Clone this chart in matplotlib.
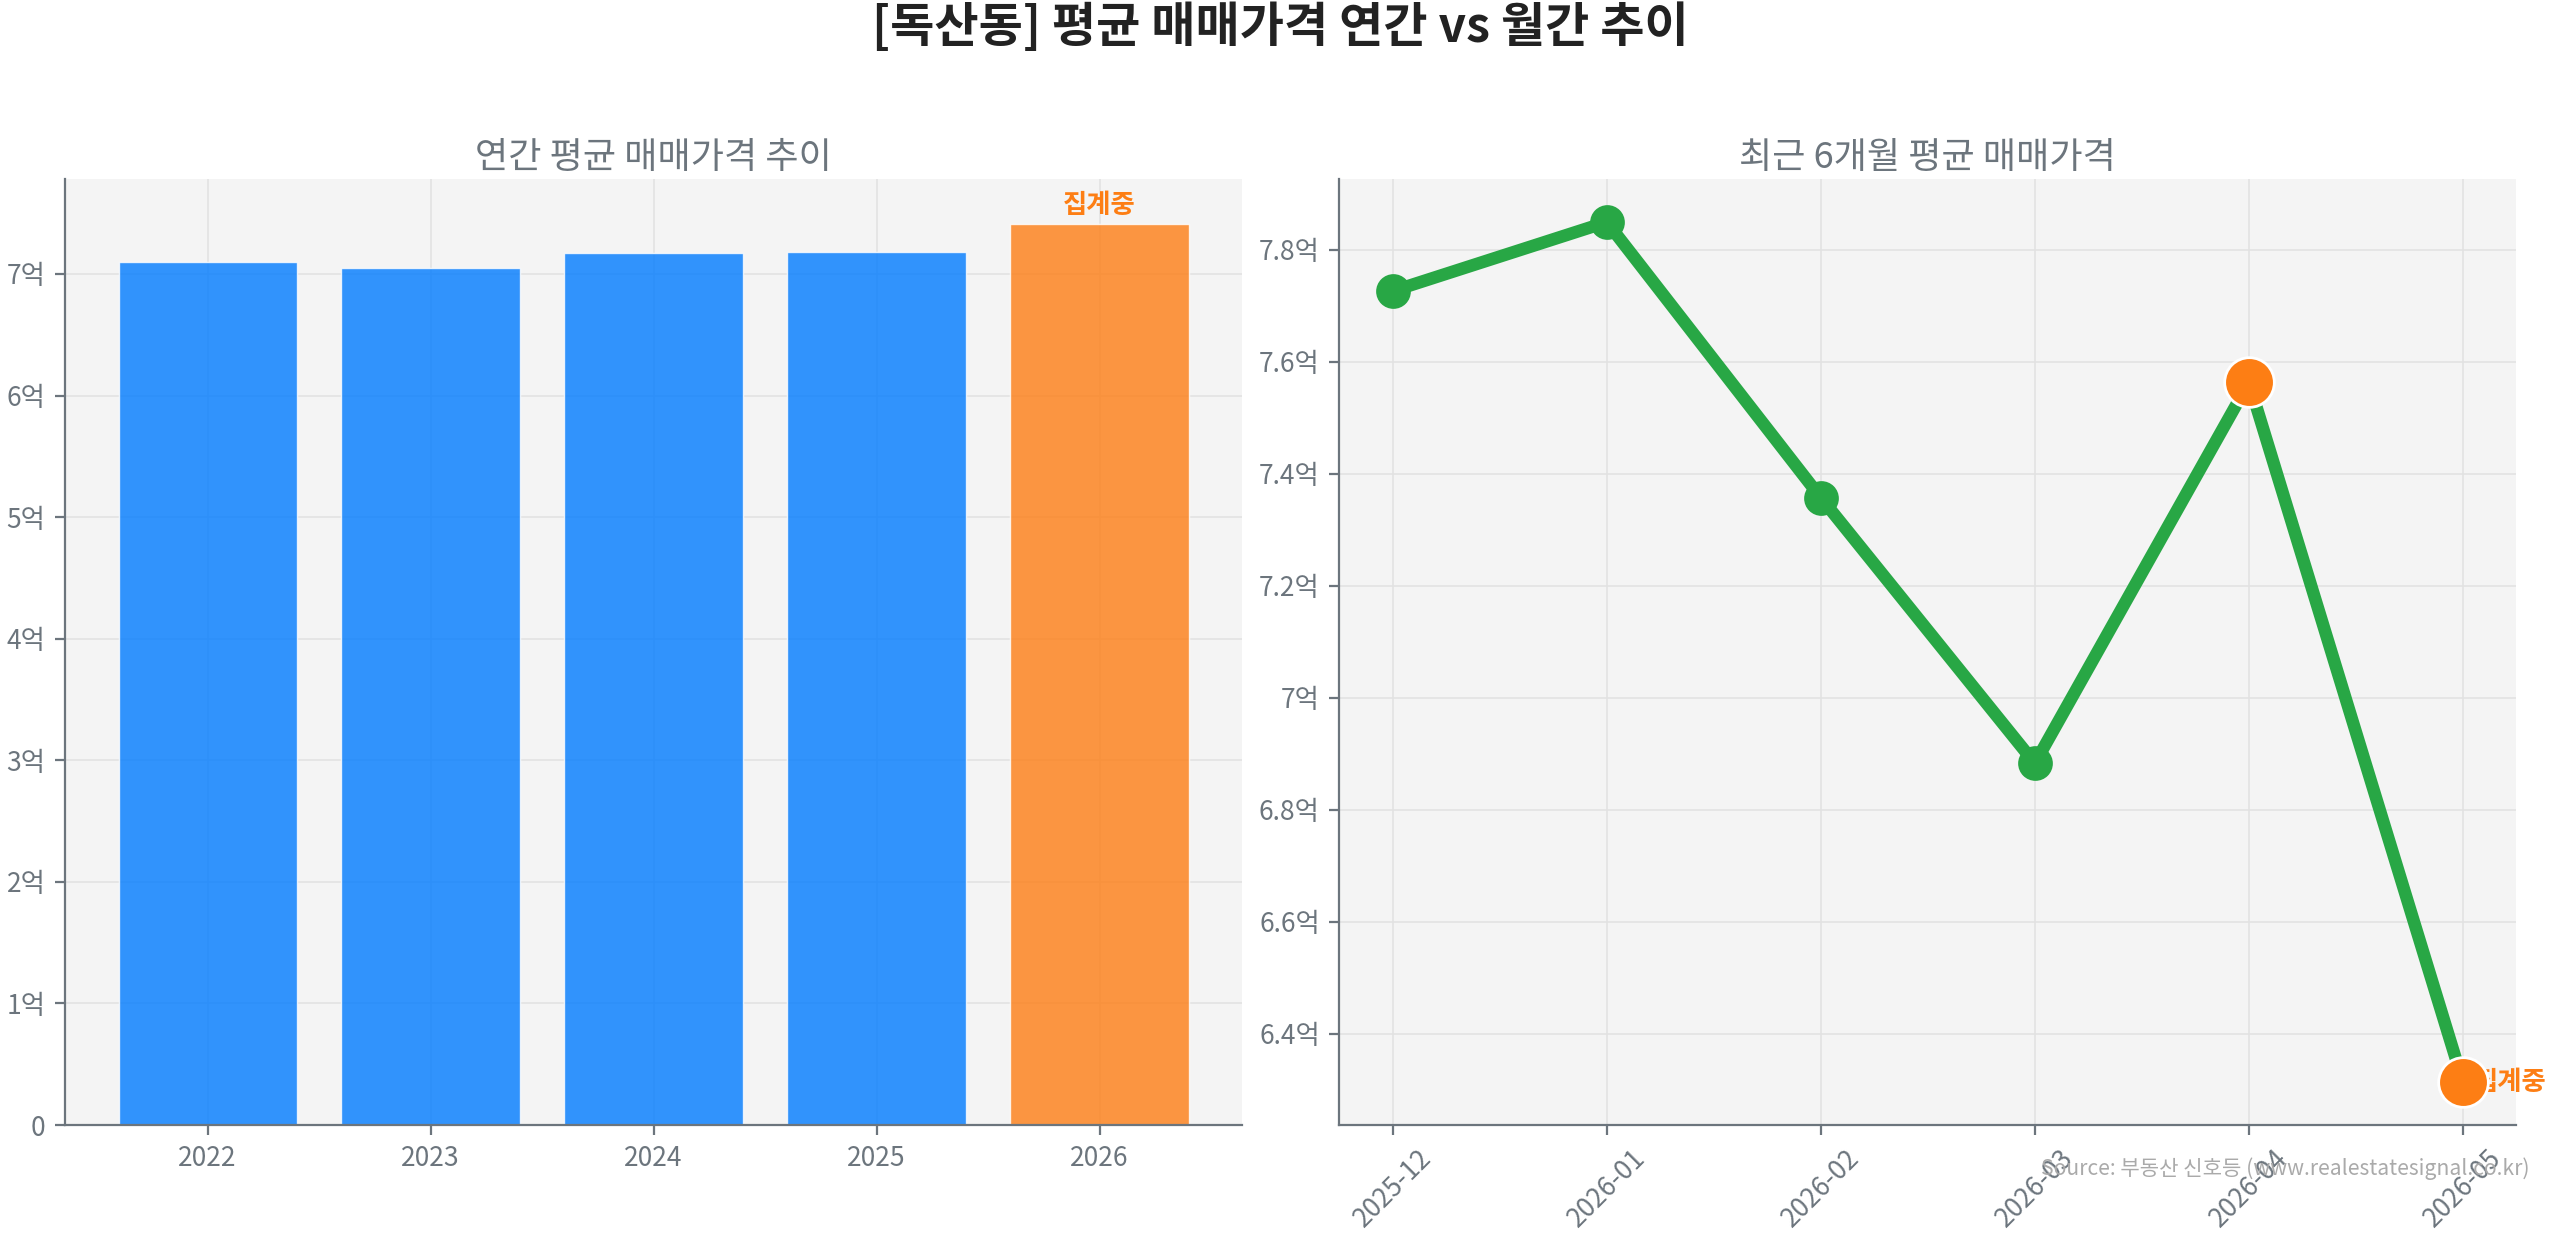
import matplotlib.pyplot as plt
from matplotlib.ticker import FuncFormatter

plt.rcParams['font.family'] = ['Noto Sans CJK KR', 'DejaVu Sans']

# 연간 평균 (억)
years = ["2022", "2023", "2024", "2025", "2026"]
year_prices = [7.095, 7.05, 7.17, 7.18, 7.41]

# 최근 6개월 평균 (억)
months = ["2025-12", "2026-01", "2026-02", "2026-03", "2026-04", "2026-05"]
month_prices = [7.726, 7.849, 7.357, 6.883, 7.563, 6.314]
highlight_months = ["2026-04", "2026-05"]

GRAY = "#6c757d"
BG = "#f4f4f4"


def eok(v, pos):
    if abs(v) < 1e-9:
        return "0"
    return f"{v:g}억"


fig, (ax1, ax2) = plt.subplots(1, 2, figsize=(12.8, 6.175), dpi=200)
fig.subplots_adjust(left=0.0254, right=0.983, top=0.855, bottom=0.089, wspace=0.0824)

for ax in (ax1, ax2):
    ax.set_facecolor(BG)
    ax.grid(True, color="#e2e2e2", linewidth=0.6)
    ax.set_axisbelow(True)
    for s in ("top", "right"):
        ax.spines[s].set_visible(False)
    for s in ("left", "bottom"):
        ax.spines[s].set_color(GRAY)
    ax.tick_params(colors=GRAY, labelsize=9.5)
    ax.yaxis.set_major_formatter(FuncFormatter(eok))

# 왼쪽: 연간
colors = ["#007bff"] * (len(years) - 1) + ["#fd7e14"]
x = range(len(years))
ax1.bar(x, year_prices, color=colors, alpha=0.8, edgecolor="white", linewidth=0.5)
ax1.set_xticks(list(x))
ax1.set_xticklabels(years)
ax1.set_ylim(0, max(year_prices) * 1.05)
ax1.text(len(years) - 1, year_prices[-1] + 0.04, "집계중", ha="center", va="bottom",
         color="#fd7e14", fontsize=9.5, fontweight="bold")
ax1.set_title("연간 평균 매매가격 추이", color=GRAY, fontsize=13, pad=4)

# 오른쪽: 월간
mx = range(len(months))
ax2.plot(mx, month_prices, color="#28a745", linewidth=4.5, marker="o", markersize=11.5, zorder=3)
hx = [months.index(m) for m in highlight_months]
hy = [month_prices[i] for i in hx]
ax2.scatter(hx, hy, s=320, color="#fd7e14", edgecolor="white", linewidth=1, zorder=5)
ax2.annotate("집계중", (hx[-1], hy[-1]), xytext=(4, 0), textcoords="offset points",
             ha="left", va="center", color="#fd7e14", fontsize=9.5, fontweight="bold", zorder=4)
ax2.set_xticks(list(mx))
ax2.set_xticklabels(months, rotation=45)
ax2.set_title("최근 6개월 평균 매매가격", color=GRAY, fontsize=13, pad=4)

fig.suptitle("[독산동] 평균 매매가격 연간 vs 월간 추이", fontsize=17.3, fontweight="bold",
             color="#222222", y=0.998)
fig.text(0.988, 0.054, "Source: 부동산 신호등 (www.realestatesignal.co.kr)", ha="right",
         va="center", fontsize=7.6, color="#aaaaaa")

plt.savefig("out.png", dpi=200)
plt.close()
